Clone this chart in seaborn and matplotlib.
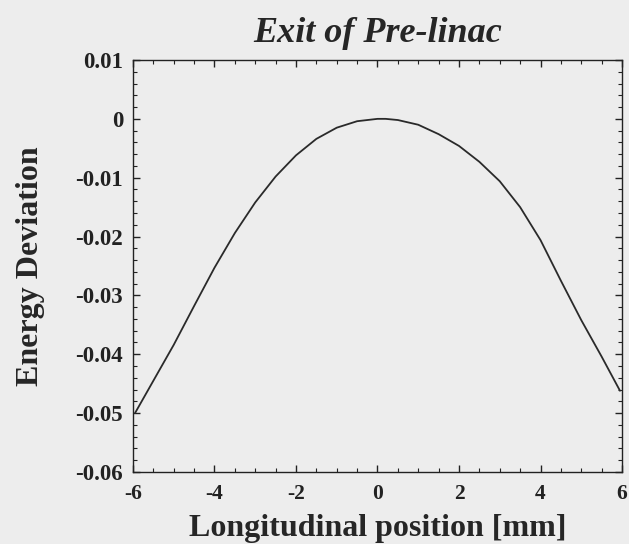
import numpy as np
import pandas as pd
import matplotlib
matplotlib.use("Agg")
import matplotlib.pyplot as plt
import seaborn as sns
from matplotlib.ticker import MultipleLocator, FixedLocator

# Data
position_mm = [-5.95, -5.5, -5.0, -4.5, -4.0, -3.5, -3.0, -2.5, -2.0, -1.5, -1.0, -0.5,
               0.0, 0.2, 0.5, 1.0, 1.5, 2.0, 2.5, 3.0, 3.5, 4.0, 4.5, 5.0, 5.5, 5.95]
energy_dev = [-0.0500, -0.0445, -0.0384, -0.0318, -0.0253, -0.0194, -0.0142, -0.0098,
              -0.0062, -0.0034, -0.0015, -0.0004, 0.0, 0.0, -0.0002, -0.0010,
              -0.0026, -0.0046, -0.0073, -0.0106, -0.0150, -0.0206, -0.0275, -0.0342,
              -0.0404, -0.0462]
x_ticks = [-6, -4, -2, 0, 2, 4, 6]
y_ticks = [0.01, 0, -0.01, -0.02, -0.03, -0.04, -0.05, -0.06]
y_tick_labels = ["0.01", "0", "-0.01", "-0.02", "-0.03", "-0.04", "-0.05", "-0.06"]

sns.set_style("ticks")
plt.rcParams["font.family"] = ["Liberation Serif", "DejaVu Serif"]
plt.rcParams["axes.unicode_minus"] = False

bg = "#ededed"
fig = plt.figure(figsize=(6.29, 5.44), dpi=100, facecolor=bg)
ax = fig.add_axes([0.2114, 0.1324, 0.7775, 0.7573])
ax.set_facecolor(bg)

df = pd.DataFrame({"x": position_mm, "y": energy_dev})
sns.lineplot(data=df, x="x", y="y", ax=ax, color="#2a2a2a", linewidth=1.3)

ax.set_xlim(-6, 6)
ax.set_ylim(-0.06, 0.01)
ax.xaxis.set_major_locator(FixedLocator(x_ticks))
ax.xaxis.set_minor_locator(MultipleLocator(0.5))
ax.yaxis.set_major_locator(FixedLocator(y_ticks))
ax.set_yticklabels(y_tick_labels)
ax.yaxis.set_minor_locator(MultipleLocator(0.002))
ax.set_xticklabels([str(t) for t in x_ticks])

ax.tick_params(which="both", direction="in", top=True, right=True, colors="#222222")
ax.tick_params(which="major", length=5, width=1.0)
ax.tick_params(axis="y", which="major", pad=7, labelsize=16.5)
ax.tick_params(axis="x", which="major", pad=9, labelsize=15.5)
ax.tick_params(which="minor", length=3, width=0.8)
for lbl in ax.get_xticklabels() + ax.get_yticklabels():
    lbl.set_fontweight("bold")
for s in ax.spines.values():
    s.set_color("#222222")
    s.set_linewidth(1.0)

ax.set_xlabel("Longitudinal position [mm]", fontsize=23, fontweight="bold", labelpad=7)
ax.set_ylabel("Energy Deviation", fontsize=23, fontweight="bold", labelpad=22)
ax.set_title("Exit of Pre-linac", fontsize=26, fontweight="bold", fontstyle="italic", pad=13)

fig.savefig("out.png", dpi=100, facecolor=bg)
